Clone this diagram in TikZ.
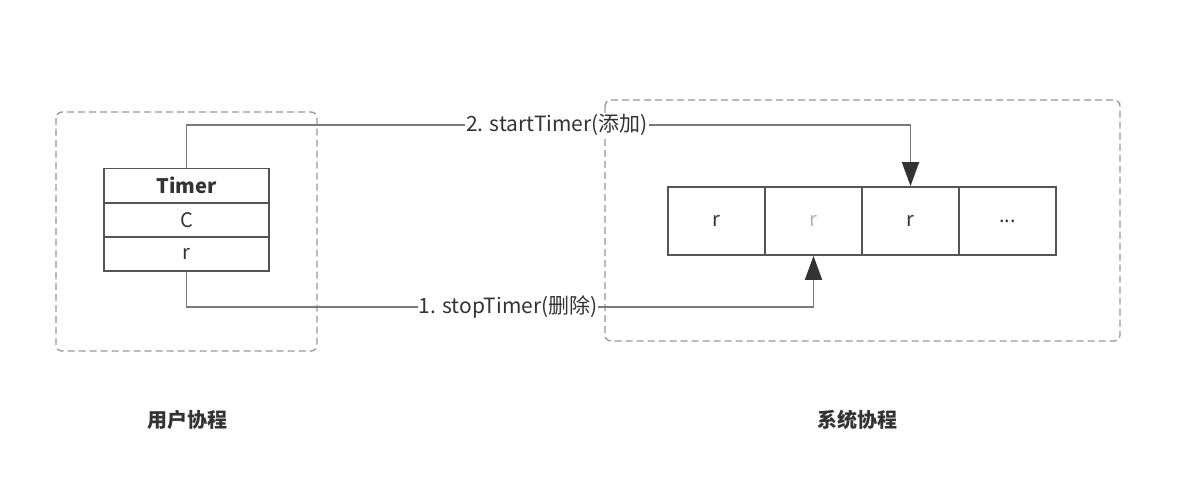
\documentclass[tikz,border=0pt]{standalone}
\usepackage{fontspec}
\setmainfont{Noto Sans CJK SC}
\usetikzlibrary{arrows.meta}
\definecolor{boxline}{HTML}{555555}
\definecolor{conline}{HTML}{7a7a7a}
\definecolor{dashline}{HTML}{999999}
\definecolor{txt}{HTML}{333333}
\begin{document}
\begin{tikzpicture}[x=1pt,y=-1pt,
  dashbox/.style={draw=dashline, dash pattern=on 7pt off 4pt, line width=1.3pt, rounded corners=6pt},
  cell/.style={draw=boxline, line width=1.8pt, minimum width=97pt, minimum height=68pt, inner sep=0pt, font=\fontsize{20}{22}\selectfont, text=txt},
  row/.style={draw=boxline, line width=1.8pt, minimum width=165pt, minimum height=34pt, inner sep=0pt, font=\fontsize{20}{22}\selectfont, text=txt},
  conn/.style={draw=conline, line width=1.8pt, -{Triangle[length=24pt,width=17pt,fill=txt,color=txt]}},
  lbl/.style={fill=white, inner sep=1pt, text=txt, font=\fontsize{21}{23}\selectfont},
  captext/.style={text=txt, font=\fontsize{20}{22}\selectfont\bfseries}
]
\useasboundingbox (0,0) rectangle (1198,494);
\fill[white] (0,0) rectangle (1198,494);
% dashed containers
\draw[dashbox] (56,112) rectangle (317,351);
\draw[dashbox] (605,100) rectangle (1120,341);
% Timer class
\node[row, font=\fontsize{20}{22}\selectfont\bfseries] (timer) at (186.5,185.5) {Timer};
\node[row] (c) at (186.5,220) {C};
\node[row] (r) at (186.5,254) {r};
% array
\node[cell] (a1) at (716.5,221) {r};
\node[cell, text=gray!60] (a2) at (813.5,221) {r};
\node[cell] (a3) at (910.5,221) {r};
\node[cell] (a4) at (1007.5,221) {...};
% connectors
\coordinate (t1) at (186.5,125);
\coordinate (t2) at (910.5,125);
\draw[conn] (timer.north) -- (t1) -- (t2) -- (a3.north);
\node[lbl] (l2) at (557,125) {2. startTimer(添加)};
\coordinate (b1) at (186.5,307);
\coordinate (b2) at (813.5,307);
\draw[conn] (r.south) -- (b1) -- (b2) -- (a2.south);
\node[lbl] (l1) at (508,307) {1. stopTimer(删除)};
% captions
\node[captext] (u) at (187,420) {用户协程};
\node[captext] (s) at (857,420) {系统协程};
\end{tikzpicture}
\end{document}
